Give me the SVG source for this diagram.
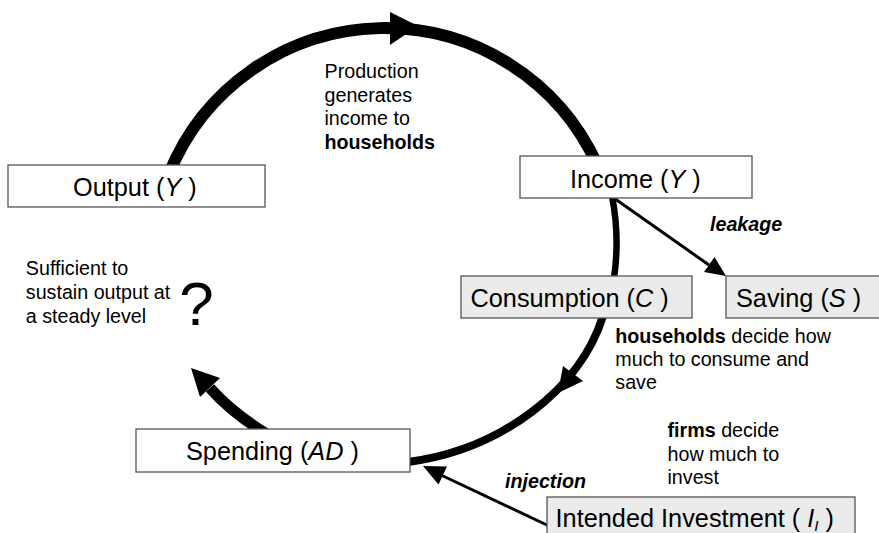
<svg xmlns="http://www.w3.org/2000/svg" width="879" height="533" viewBox="0 0 879 533">
<style>
.box{stroke:#555555;stroke-width:1.3}
.w{fill:#ffffff}
.g{fill:#ebebeb}
.flow{fill:none;stroke:#000000;stroke-linecap:butt}
.head{fill:#000000;stroke:none}
.lbl{font-family:"Liberation Sans",Arial,sans-serif;font-size:25.3px;fill:#000000}
.ann{font-family:"Liberation Sans",Arial,sans-serif;font-size:19.7px;fill:#000000}
.b{font-weight:bold}
.i{font-style:italic}
.q{font-size:62px}
.sub{font-size:15px}
</style>
<rect width="879" height="533" fill="#ffffff"/>
<g id="connectors">
  <path class="flow" stroke-width="12" d="M168.5,175 A233,233 0 0,1 597.3,165"/>
  <polygon class="head" points="390,12 390,45 418,26"/>
  <path class="flow" stroke-width="6.5" d="M612,196 Q620,237 614,278"/>
  <path class="flow" stroke-width="8" d="M603,316 C580,390 500,450 408,462"/>
  <polygon class="head" points="558,393 563,366 583,381"/>
  <path class="flow" stroke-width="11" d="M270,436 Q233,414 210,388"/>
  <polygon class="head" points="191,368 200,397 220,378"/>
  <path class="flow" stroke-width="3" d="M611,196 L709,265"/>
  <polygon class="head" points="726,276 704,272 714.5,257"/>
  <path class="flow" stroke-width="3" d="M549,526 L442,475.5"/>
  <polygon class="head" points="423,466 447,466.5 438.5,484.5"/>
</g>
<g id="node-output">
  <rect class="box w" x="8" y="165" width="257" height="42"/>
  <text class="lbl" x="73" y="196">Output (<tspan class="i">Y</tspan> )</text>
</g>
<g id="node-income">
  <rect class="box w" x="520" y="156" width="232" height="42"/>
  <text class="lbl" x="570" y="187.5">Income (<tspan class="i">Y</tspan> )</text>
</g>
<g id="node-consumption">
  <rect class="box g" x="461" y="276" width="231" height="42"/>
  <text class="lbl" x="470.5" y="306.5">Consumption (<tspan class="i">C</tspan> )</text>
</g>
<g id="node-saving">
  <rect class="box g" x="726" y="276" width="160" height="42"/>
  <text class="lbl" x="736" y="306.5">Saving (<tspan class="i">S</tspan> )</text>
</g>
<g id="node-spending">
  <rect class="box w" x="136" y="429" width="274" height="43"/>
  <text class="lbl" x="186" y="459.8">Spending (<tspan class="i">AD</tspan> )</text>
</g>
<g id="node-investment">
  <rect class="box g" x="547" y="497" width="308" height="50"/>
  <text class="lbl" x="555.6" y="526.7">Intended Investment ( <tspan class="i">I</tspan><tspan class="i sub" dy="4">I</tspan><tspan dy="-4"> )</tspan></text>
</g>
<g id="annotations">
  <text class="ann" x="324.5" y="78">Production</text>
  <text class="ann" x="324.5" y="101.5">generates</text>
  <text class="ann" x="324.5" y="125">income to</text>
  <text class="ann b" x="324.5" y="148.5">households</text>
  <text class="ann b i" x="710" y="231">leakage</text>
  <text class="ann" x="25.8" y="275">Sufficient to</text>
  <text class="ann" x="25.8" y="298.5">sustain output at</text>
  <text class="ann" x="25.8" y="322.5">a steady level</text>
  <text class="ann q" x="179.3" y="325">?</text>
  <text class="ann" x="615.3" y="343"><tspan class="b">households</tspan> decide how</text>
  <text class="ann" x="615.3" y="366">much to consume and</text>
  <text class="ann" x="615.3" y="389">save</text>
  <text class="ann" x="667.5" y="437"><tspan class="b">firms</tspan> decide</text>
  <text class="ann" x="667.5" y="461">how much to</text>
  <text class="ann" x="667.5" y="484">invest</text>
  <text class="ann b i" x="505" y="488">injection</text>
</g>
</svg>
